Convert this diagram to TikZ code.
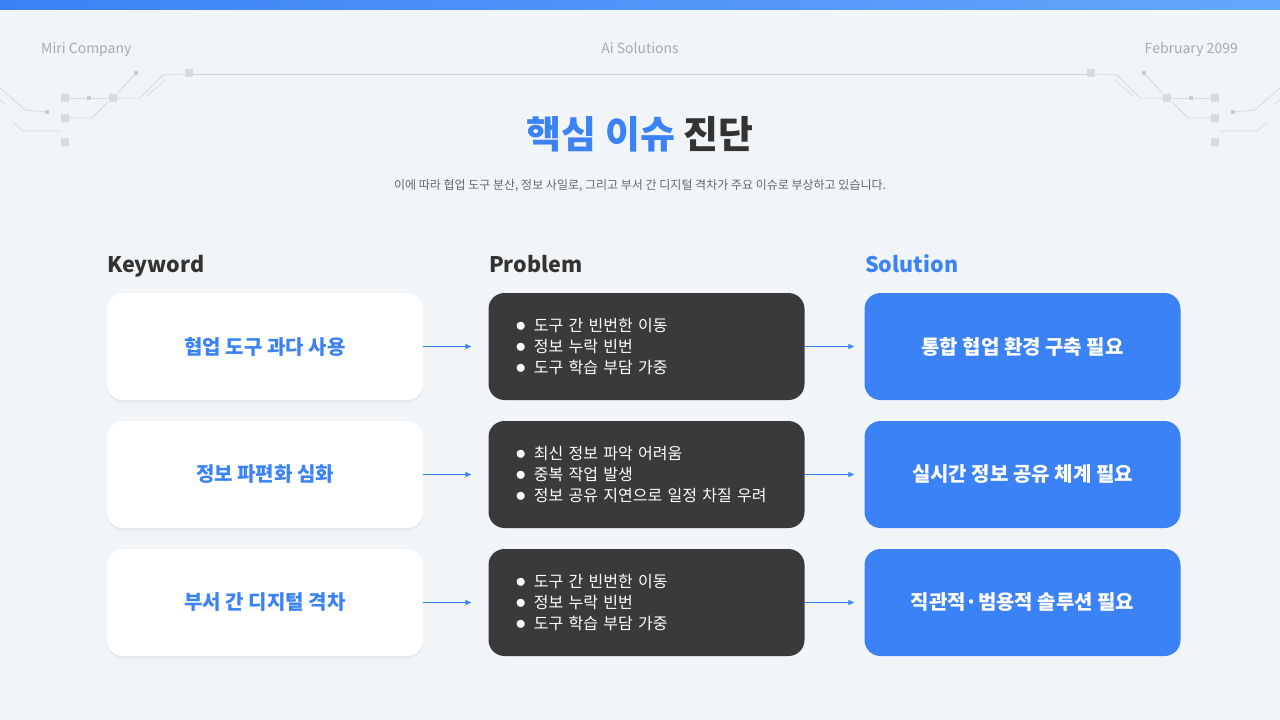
\documentclass[tikz,border=0pt]{standalone}
\usepackage{fontspec}
\setmainfont{Noto Sans CJK KR}
\usetikzlibrary{arrows.meta,shadows}
\definecolor{bgcol}{HTML}{F2F5F7}
\definecolor{mainblue}{HTML}{3B82F6}
\definecolor{barlight}{HTML}{66A6FB}
\definecolor{darkbox}{HTML}{3A3A3C}
\definecolor{titledark}{HTML}{333333}
\definecolor{subgray}{HTML}{666666}
\definecolor{headgray}{HTML}{A8ABAE}
\definecolor{circuit}{HTML}{D8DBDE}
\newcommand{\pitem}[1]{{\fontsize{20}{20}\selectfont$\bullet$}\hspace{8pt}#1}

\begin{document}
\begin{tikzpicture}[x=1pt, y=-1pt,
    every node/.style={inner sep=0pt},
    keybox/.style={fill=white, rounded corners=16pt, minimum width=316pt, minimum height=107pt,
      text=mainblue, font=\bfseries\fontsize{20}{24}\selectfont,
      drop shadow={shadow xshift=0pt, shadow yshift=-3pt, opacity=.025, fill=black},
      drop shadow={shadow xshift=0pt, shadow yshift=-1.5pt, opacity=.025, fill=black}},
    probbox/.style={fill=darkbox, rounded corners=16pt, minimum height=107pt,
      text width=262pt, inner xsep=27pt, align=left, text=white,
      font=\fontsize{16}{21}\selectfont},
    solbox/.style={fill=mainblue, rounded corners=16pt, minimum width=316pt, minimum height=107pt,
      text=white, font=\bfseries\fontsize{20}{24}\selectfont},
    colhead/.style={anchor=base west, font=\bfseries\fontsize{21.5}{26}\selectfont},
    toptext/.style={anchor=base, text=headgray, font=\fontsize{14}{16}\selectfont},
    link/.style={draw=mainblue, line width=1.5pt, -{Triangle[length=6pt,width=5pt]}},
    chip/.style={fill=circuit, minimum size=8pt},
    pin/.style={fill=circuit!85!gray, minimum size=4pt},
    trace/.style={draw=circuit, line width=.8pt}]

  \useasboundingbox[fill=bgcol] (0,0) rectangle (1280,720);
  \shade[left color=mainblue, right color=barlight] (0,0) rectangle (1280,9);

  % circuit lines, left side and mirrored right side
  \foreach \side in {0,1} {
    \begin{scope}[xshift=\side*1280pt, xscale=1-2*\side]
      \draw[trace] (69,98) -- (109,98);
      \draw[trace] (117,98) -- (140,98) -- (163,75) -- (185,74);
      \draw[trace] (147,96) -- (165,80);
      \draw[trace] (136,73) -- (115,96);
      \draw[trace] (69,118) -- (92,118) -- (108,102);
      \draw[trace] (0,88) -- (25,110) -- (47,112);
      \draw[trace] (0,100) -- (5,104);
      \draw[trace] (13,122) -- (23,131) -- (61,131);
      \node[chip] at (65,98) {};
      \node[chip] at (65,118) {};
      \node[chip] at (65,142) {};
      \node[chip] at (113,98) {};
      \node[chip] at (189,73) {};
      \node[pin] at (89,98) {};
      \node[pin] at (136,73) {};
      \node[pin] at (47,112) {};
    \end{scope}
  }
  \draw[trace, draw=circuit!90!gray] (193,74) -- (1087,74);

  % header
  \node[toptext, anchor=base west] (company) at (41,53) {Miri Company};
  \node[toptext] (topic) at (640,53) {Ai Solutions};
  \node[toptext, anchor=base east] (date) at (1238,53) {February 2099};

  \node[text=titledark, font=\bfseries\fontsize{38}{44}\selectfont] (title) at (640,134)
    {{\color{mainblue}핵심 이슈} 진단};
  \node[text=subgray, font=\fontsize{12}{14}\selectfont] (subtitle) at (640,186)
    {이에 따라 협업 도구 분산, 정보 사일로, 그리고 부서 간 디지털 격차가 주요 이슈로 부상하고 있습니다.};

  % column heads
  \node[colhead, text=titledark] (hkey) at (107,272) {Keyword};
  \node[colhead, text=titledark] (hprob) at (489,272) {Problem};
  \node[colhead, text=mainblue] (hsol) at (865,272) {Solution};

  % row 1
  \node[keybox] (k1) at (265,346.5) {협업 도구 과다 사용};
  \node[probbox] (p1) at (646.5,346.5) {\pitem{도구 간 빈번한 이동}\\\pitem{정보 누락 빈번}\\\pitem{도구 학습 부담 가중}};
  \node[solbox] (s1) at (1022.5,346.5) {통합 협업 환경 구축 필요};

  % row 2
  \node[keybox] (k2) at (265,474.5) {정보 파편화 심화};
  \node[probbox] (p2) at (646.5,474.5) {\pitem{최신 정보 파악 어려움}\\\pitem{중복 작업 발생}\\\pitem{정보 공유 지연으로 일정 차질 우려}};
  \node[solbox] (s2) at (1022.5,474.5) {실시간 정보 공유 체계 필요};

  % row 3
  \node[keybox] (k3) at (265,602.5) {부서 간 디지털 격차};
  \node[probbox] (p3) at (646.5,602.5) {\pitem{도구 간 빈번한 이동}\\\pitem{정보 누락 빈번}\\\pitem{도구 학습 부담 가중}};
  \node[solbox] (s3) at (1022.5,602.5) {직관적·범용적 솔루션 필요};

  \draw[link, shorten >=17pt] (k1) -- (p1);
  \draw[link, shorten >=17pt] (k2) -- (p2);
  \draw[link, shorten >=17pt] (k3) -- (p3);
  \draw[link, shorten >=10pt] (p1) -- (s1);
  \draw[link, shorten >=10pt] (p2) -- (s2);
  \draw[link, shorten >=10pt] (p3) -- (s3);
\end{tikzpicture}
\end{document}
